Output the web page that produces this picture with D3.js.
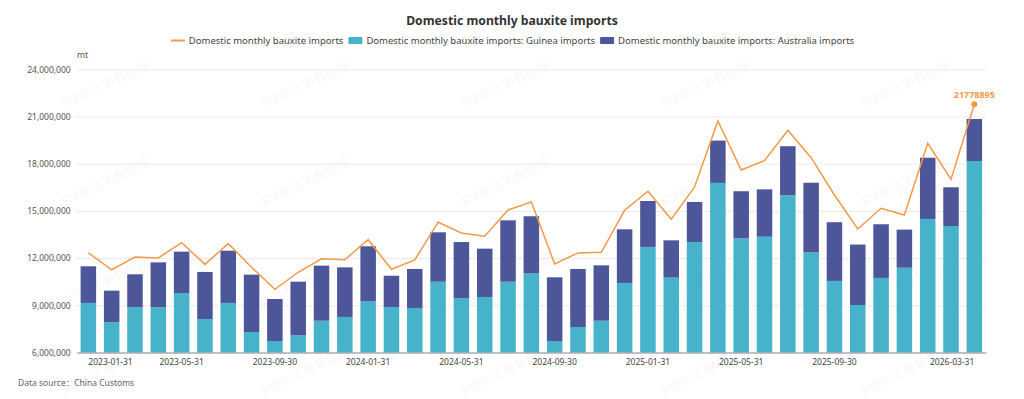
<!DOCTYPE html>
<html><head><meta charset="utf-8">
<script src="https://cdn.jsdelivr.net/npm/d3@7"></script>
<style>
body{margin:0;background:#fff;}
svg{display:block;font-family:"Noto Sans",sans-serif;}
</style>
</head><body>
<svg id="c" width="1024" height="399"></svg>
<script>
const categories = ["2023-01-31","2023-02-28","2023-03-31","2023-04-30","2023-05-31","2023-06-30","2023-07-31","2023-08-31","2023-09-30","2023-10-31","2023-11-30","2023-12-31",
"2024-01-31","2024-02-29","2024-03-31","2024-04-30","2024-05-31","2024-06-30","2024-07-31","2024-08-31","2024-09-30","2024-10-31","2024-11-30","2024-12-31",
"2025-01-31","2025-02-28","2025-03-31","2025-04-30","2025-05-31","2025-06-30","2025-07-31","2025-08-31","2025-09-30","2025-10-31","2025-11-30","2025-12-31",
"2026-01-31","2026-02-28","2026-03-31"];
const guinea = [9150000,7920000,8890000,8870000,9780000,8130000,9150000,7300000,6730000,7090000,8020000,8260000,
9250000,8890000,8830000,10500000,9450000,9530000,10500000,11030000,6730000,7620000,8020000,10420000,
12710000,10760000,13020000,16780000,13260000,13360000,15990000,12370000,10550000,9020000,10740000,11390000,
14490000,14040000,18170000];
const australia = [2330000,2010000,2080000,2860000,2630000,2990000,3320000,3650000,2670000,3410000,3500000,3150000,
3500000,1990000,2480000,3140000,3570000,3070000,3900000,3630000,4050000,3690000,3520000,3410000,
2920000,2370000,2550000,2690000,2990000,3010000,3120000,4420000,3730000,3840000,3410000,2420000,
3890000,2460000,2670000];
const total = [12340000,11260000,12070000,12010000,12980000,11600000,12920000,11420000,10020000,11100000,11960000,11900000,
13170000,11290000,11880000,14280000,13600000,13390000,15060000,15570000,11630000,12330000,12370000,15040000,
16250000,14470000,16520000,20720000,17600000,18190000,20130000,18380000,16010000,13850000,15170000,14740000,
19300000,17010000,21778895];
const yTicks = [6000000,9000000,12000000,15000000,18000000,21000000,24000000];
const xTickLabels = ["2023-01-31","2023-05-31","2023-09-30","2024-01-31","2024-05-31","2024-09-30","2025-01-31","2025-05-31","2025-09-30","2026-03-31"];
const seriesNames = ["Domestic monthly bauxite imports","Domestic monthly bauxite imports: Guinea imports","Domestic monthly bauxite imports: Australia imports"];
const colors = {line:"#F39A4B", guinea:"#47B3CA", australia:"#4C5698"};

const svg = d3.select("#c");
const L = 76.7, R = 986, T = 69.3, B = 352.5;

// watermarks
const wmX = [105,305,505,705,905], wmY = [85,182,282,371];
const wm = svg.append("g");
wmY.forEach(yy => wmX.forEach(xx => {
  wm.append("text").attr("transform",`translate(${xx},${yy}) rotate(-25)`)
    .attr("text-anchor","middle").attr("dominant-baseline","central")
    .attr("font-size",12.5).attr("fill","rgba(0,0,0,0.055)")
    .attr("font-family","'Noto Sans','Noto Sans CJK SC',sans-serif")
    .text("SMM 上海有色网");
}));

const x = d3.scaleBand().domain(categories).range([L, R]).padding(0);
const y = d3.scaleLinear().domain([6000000, 24000000]).range([B, T]);
const bw = x.bandwidth() * 0.665;
const cx = d => x(d) + x.bandwidth()/2;

// grid + y axis
const gy = svg.append("g").attr("transform",`translate(${L},0)`)
  .call(d3.axisLeft(y).tickValues(yTicks).tickSize(-(R-L)).tickPadding(6).tickFormat(d3.format(",")));
gy.select(".domain").remove();
gy.selectAll(".tick line").attr("stroke","#ebebeb").attr("stroke-width",1);
gy.selectAll(".tick text").attr("fill","#555").attr("font-size",8.5).attr("font-family","'Noto Sans',sans-serif");

// bars
const stack = categories.map((c,i)=>({c, g:guinea[i], a:australia[i]}));
svg.append("g").selectAll("rect").data(stack).join("rect")
  .attr("x", d => cx(d.c)-bw/2).attr("width", bw)
  .attr("y", d => y(d.g)).attr("height", d => y(6000000) - y(d.g))
  .attr("fill", colors.guinea);
svg.append("g").selectAll("rect").data(stack).join("rect")
  .attr("x", d => cx(d.c)-bw/2).attr("width", bw)
  .attr("y", d => y(d.g + d.a)).attr("height", d => y(d.g) - y(d.g + d.a))
  .attr("fill", colors.australia);

// x axis
const gx = svg.append("g").attr("transform",`translate(0,${B})`)
  .call(d3.axisBottom(x).tickValues(xTickLabels).tickSize(0).tickPadding(6));
gx.select(".domain").attr("stroke","#8a8f99").attr("stroke-width",1);
gx.selectAll(".tick text").attr("fill","#444").attr("font-size",8.5).attr("font-family","'Noto Sans',sans-serif");
gx.selectAll(".tick text").filter(d => d === xTickLabels[0]).attr("text-anchor","start");
gx.selectAll(".tick text").filter(d => d === xTickLabels[xTickLabels.length-1]).attr("text-anchor","end");

// line
const line = d3.line().x((d,i)=>cx(categories[i])).y(d=>y(d));
svg.append("path").datum(total).attr("d", line).attr("fill","none")
  .attr("stroke", colors.line).attr("stroke-width",1.5);
const li = total.length-1;
svg.append("circle").attr("cx", cx(categories[li])).attr("cy", y(total[li])).attr("r",3).attr("fill",colors.line);
svg.append("text").attr("x", cx(categories[li])).attr("y", y(total[li]) - 6)
  .attr("text-anchor","middle").attr("font-size",9).attr("font-weight","bold").attr("fill",colors.line)
  .text(d3.format("d")(total[li]));

// title
svg.append("text").attr("x",512).attr("y",25).attr("text-anchor","middle")
  .attr("font-size",12.2).attr("font-weight","bold").attr("fill","#333").text("Domestic monthly bauxite imports");

// legend
const lg = svg.append("g");
let lx = 0;
seriesNames.forEach((n,i) => {
  const item = lg.append("g").attr("transform",`translate(${lx},0)`);
  if (i===0) item.append("line").attr("x1",0).attr("x2",14).attr("y1",0).attr("y2",0).attr("stroke",colors.line).attr("stroke-width",2);
  else item.append("rect").attr("x",0).attr("y",-3.5).attr("width",14).attr("height",7).attr("rx",1).attr("fill", i===1?colors.guinea:colors.australia);
  const t = item.append("text").attr("x",18).attr("y",0).attr("dominant-baseline","central")
    .attr("font-size",9.5).attr("fill","#444").text(n);
  lx += 18 + t.node().getComputedTextLength() + 5;
});
lg.attr("transform",`translate(${512.5 - (lx-5)/2},40.5)`);

// unit
svg.append("text").attr("x",77).attr("y",58).attr("font-size",8.5).attr("fill","#555").text("mt");

// source
svg.append("text").attr("x",18).attr("y",385.5).attr("font-size",8.5).attr("fill","#666")
  .attr("font-family","'Noto Sans','Noto Sans CJK SC',sans-serif").text("Data source：China Customs");
</script>
</body></html>
